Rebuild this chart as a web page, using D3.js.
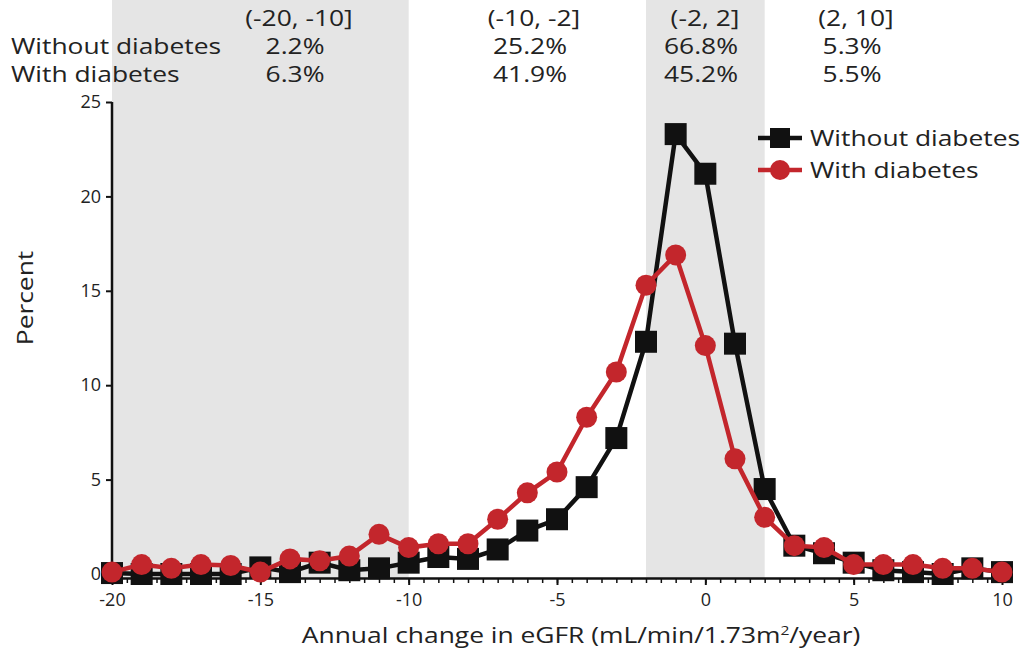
<!DOCTYPE html>
<html>
<head>
<meta charset="utf-8">
<script src="https://cdn.jsdelivr.net/npm/d3@7/dist/d3.min.js"></script>
<style>
  body { margin: 0; background: #fff; }
  text { font-family: "Open Sans", sans-serif; fill: #222; }
</style>
</head>
<body>
<div id="chart"></div>
<script>
"use strict";

// annual change in eGFR, one point per integer
var xValues = d3.range(-20, 11);
var withoutDiabetes = [0.05, 0, 0, 0, 0, 0.35, 0.1, 0.6, 0.2, 0.3, 0.6, 0.9, 0.8, 1.3, 2.3, 2.9,
    4.6, 7.2, 12.3, 23.3, 21.2, 12.2, 4.5, 1.5, 1.1, 0.6, 0.2, 0.1, 0, 0.3, 0.1];
var withDiabetes = [0.1, 0.5, 0.3, 0.5, 0.45, 0.1, 0.8, 0.7, 0.95, 2.1, 1.4, 1.6, 1.6, 2.9, 4.3, 5.4,
    8.3, 10.7, 15.3, 16.9, 12.1, 6.1, 3.0, 1.5, 1.4, 0.5, 0.5, 0.5, 0.3, 0.3, 0.1];

var seriesNames = ["Without diabetes", "With diabetes"];
var seriesColors = ["#111111", "#c3262c"];

// summary table at top
var intervals = ["(-20, -10]", "(-10, -2]", "(-2, 2]", "(2, 10]"];
var shareWithout = ["2.2%", "25.2%", "66.8%", "5.3%"];
var shareWith = ["6.3%", "41.9%", "45.2%", "5.5%"];
var shadedBands = [[-20, -10], [-2, 2]];

var xTicks = [-20, -15, -10, -5, 0, 5, 10];
var yTicks = [0, 5, 10, 15, 20, 25];

var width = 1035, height = 657;
var stretch = 1.2;   // the original lettering is wide
var svg = d3.select("#chart").append("svg")
    .attr("width", width)
    .attr("height", height);

var x = d3.scaleLinear().domain([-20, 10]).range([112, 1002]);
var y = d3.scaleLinear().domain([0, 25]).range([574, 102]);
var axisY = 578;

function wideText(parent, px, py, str, size, anchor, rotate){
    var g = parent.append("g")
        .attr("transform", "translate(" + px + "," + py + ")" +
            (rotate ? " rotate(" + rotate + ")" : "") + " scale(" + stretch + ",1)");
    return g.append("text")
        .attr("font-size", size)
        .attr("text-anchor", anchor || "start")
        .text(str);
}

// gray bands
svg.selectAll("rect.band").data(shadedBands).enter()
    .append("rect")
        .attr("class", "band")
        .attr("x", function(d){ return x(d[0]); })
        .attr("y", 0)
        .attr("width", function(d){ return x(d[1]) - x(d[0]); })
        .attr("height", axisY)
        .attr("fill", "#e5e5e5");

// header table
var colX = [299, 534, 705, 856];
var header = svg.append("g");
intervals.forEach(function(d, i){ wideText(header, colX[i], 26, d, 22, "middle"); });
shareWithout.forEach(function(d, i){ wideText(header, colX[i] - 4, 54, d, 22, "middle"); });
shareWith.forEach(function(d, i){ wideText(header, colX[i] - 4, 82, d, 22, "middle"); });
wideText(header, 11, 54, seriesNames[0], 22);
wideText(header, 11, 82, seriesNames[1], 22);

// axes
var xAxis = svg.append("g")
    .attr("transform", "translate(0," + axisY + ")")
    .call(d3.axisBottom(x).tickValues(d3.range(-20, 10.5, 0.5)).tickSize(5).tickFormat(""));
xAxis.select(".domain").attr("stroke", "#111").attr("stroke-width", 2.5);
xAxis.selectAll(".tick line").attr("stroke", "#111").attr("stroke-width", 1.5);

var xMajor = svg.append("g")
    .attr("transform", "translate(0," + axisY + ")")
    .call(d3.axisBottom(x).tickValues(xTicks).tickSize(7).tickPadding(8));
xMajor.select(".domain").remove();
xMajor.selectAll(".tick line").attr("stroke", "#111").attr("stroke-width", 2);
xMajor.selectAll(".tick text").attr("font-size", 18).attr("fill", "#333")
    .attr("font-family", "Open Sans, sans-serif")
    .text(function(d){ return d < 0 ? "-" + Math.abs(d) : d; });

var yAxis = svg.append("g")
    .attr("transform", "translate(" + x(-20) + ",0)")
    .call(d3.axisLeft(y).tickValues(yTicks).tickSize(6).tickPadding(5));
yAxis.select(".domain").attr("d", "M0," + y(25) + "V" + axisY)
    .attr("stroke", "#111").attr("stroke-width", 2.5);
yAxis.selectAll(".tick line").attr("stroke", "#111").attr("stroke-width", 2);
yAxis.selectAll(".tick text").attr("font-size", 18).attr("fill", "#333")
    .attr("font-family", "Open Sans, sans-serif");

wideText(svg, 33, 298, "Percent", 22, "middle", -90);

var xLabel = wideText(svg, 581, 643, "", 22, "middle");
xLabel.append("tspan").text("Annual change in eGFR (mL/min/1.73m");
xLabel.append("tspan").attr("font-size", 13).attr("dy", -8).text("2");
xLabel.append("tspan").attr("dy", 8).text("/year)");

// lines and markers
var line = d3.line()
    .x(function(d, i){ return x(xValues[i]); })
    .y(function(d){ return y(d); });

svg.append("path").datum(withoutDiabetes)
    .attr("d", line).attr("fill", "none")
    .attr("stroke", seriesColors[0]).attr("stroke-width", 4.5);
svg.selectAll("rect.sq").data(withoutDiabetes).enter()
    .append("rect")
        .attr("class", "sq")
        .attr("x", function(d, i){ return x(xValues[i]) - 11; })
        .attr("y", function(d){ return y(d) - 11; })
        .attr("width", 22).attr("height", 22)
        .attr("fill", seriesColors[0]);

svg.append("path").datum(withDiabetes)
    .attr("d", line).attr("fill", "none")
    .attr("stroke", seriesColors[1]).attr("stroke-width", 4.5);
svg.selectAll("circle.dot").data(withDiabetes).enter()
    .append("circle")
        .attr("class", "dot")
        .attr("cx", function(d, i){ return x(xValues[i]); })
        .attr("cy", function(d){ return y(d); })
        .attr("r", 10.5)
        .attr("fill", seriesColors[1]);

// legend
var legend = svg.append("g").attr("transform", "translate(758,138)");
seriesNames.forEach(function(name, i){
    var item = legend.append("g").attr("transform", "translate(0," + i * 32 + ")");
    item.append("line")
        .attr("x1", 0).attr("x2", 44).attr("y1", 0).attr("y2", 0)
        .attr("stroke", seriesColors[i])
        .attr("stroke-width", 4.5);
    if (i === 0) {
        item.append("rect")
            .attr("x", 12).attr("y", -10).attr("width", 20).attr("height", 20)
            .attr("fill", seriesColors[0]);
    } else {
        item.append("circle")
            .attr("cx", 22).attr("cy", 0).attr("r", 10)
            .attr("fill", seriesColors[1]);
    }
    wideText(item, 52, 8, name, 22);
});
</script>
</body>
</html>
